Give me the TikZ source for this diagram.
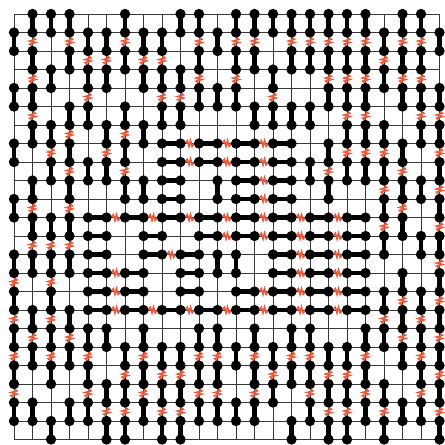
\documentclass[tikz,border=0pt]{standalone}
\definecolor{zred}{HTML}{EA5A3C}
\definecolor{gridc}{HTML}{383838}
\tikzset{
  gridline/.style={draw=gridc, line width=0.7pt},
  dimer/.style={line width=3.6pt, draw=black},
  zz/.style={draw=zred, line width=1.3pt, line join=miter},
}
\newcommand\VList{%
0/1,0/4,0/7,0/10,0/13,0/15,0/17,0/19,0/21,%
1/0,1/2,1/4,1/6,1/9,1/11,1/13,1/16,1/18,1/21,%
2/0,2/3,2/6,2/8,2/11,2/13,2/15,2/17,2/19,2/22,%
3/0,3/2,3/5,3/7,3/9,3/11,3/13,3/16,3/18,3/21,%
4/1,4/3,4/5,4/8,4/17,4/19,4/21,%
5/1,5/3,5/6,5/8,5/17,5/20,5/22,%
6/0,6/2,6/5,6/7,6/9,6/18,6/20,6/22,%
7/1,7/3,7/6,7/9,7/17,7/19,7/21,%
8/1,8/3,8/5,8/18,8/20,8/22,%
9/0,9/3,9/5,9/18,9/20,9/22,%
10/0,10/2,10/4,10/17,10/19,10/21,%
11/1,11/4,11/9,11/13,11/17,11/19,11/21,%
12/0,12/2,12/4,12/13,12/18,12/21,%
13/0,13/2,13/5,13/17,13/19,13/21,%
14/0,14/3,14/5,14/18,14/20,%
15/0,15/2,15/5,15/17,15/19,15/22,%
16/0,16/2,16/5,16/8,16/17,16/19,16/21,%
17/0,17/2,17/4,17/7,17/9,17/18,17/20,17/22,%
18/0,18/2,18/4,18/6,18/8,18/18,18/20,18/22,%
19/0,19/2,19/4,19/6,19/8,19/17,19/19,19/21,%
20/1,20/3,20/6,20/8,20/10,20/12,20/15,20/17,20/20,20/22,%
21/0,21/2,21/4,21/7,21/9,21/11,21/14,21/16,21/18,21/21,%
22/0,22/2,22/4,22/6,22/9,22/12,22/15,22/17,22/19,22/21,%
23/1,23/4,23/6,23/8,23/10,23/12,23/14,23/16,23/18,23/20,23/22}
\newcommand\HList{%
8/7,10/7,12/7,14/7,%
8/8,10/8,12/8,14/8,%
8/9,12/9,14/9,%
8/10,12/10,14/10,%
4/11,6/11,8/11,10/11,12/11,14/11,16/11,18/11,%
4/12,7/12,10/12,12/12,14/12,16/12,18/12,%
4/13,7/13,9/13,14/13,16/13,18/13,%
4/14,6/14,9/14,14/14,16/14,18/14,%
4/15,6/15,9/15,12/15,14/15,16/15,18/15,%
4/16,6/16,8/16,10/16,12/16,14/16,16/16,18/16}
\begin{document}
\begin{tikzpicture}[x=0.5cm,y=0.5cm]
\useasboundingbox[fill=white] (-0.757,0.757) rectangle (23.297,-23.243);
\draw[gridline, step=0.5cm] (0,0) grid (23,-23);
\foreach \c/\r in \VList {\expandafter\gdef\csname dV\c:\r\endcsname{}}
\foreach \c/\r in \HList {\expandafter\gdef\csname dH\c:\r\endcsname{}}
% red zigzags between collinear dimers
\foreach \c/\r in \VList {
  \pgfmathtruncatemacro\rr{\r+2}
  \ifcsname dV\c:\rr\endcsname
    \draw[zz, shift={({\c},{-\r-1.5})}] (0,0.26) -- (0.15,0.13) -- (-0.15,0.04) -- (0.15,-0.04) -- (-0.15,-0.13) -- (0,-0.26);
  \fi
}
\foreach \c/\r in \HList {
  \pgfmathtruncatemacro\cc{\c+2}
  \ifcsname dH\cc:\r\endcsname
    \draw[zz, shift={({\c+1.5},{-\r})}] (-0.26,0) -- (-0.13,0.15) -- (-0.04,-0.15) -- (0.04,0.15) -- (0.13,-0.15) -- (0.26,0);
  \fi
}
% dimers
\foreach \c/\r in \VList {
  \draw[dimer] ({\c},{-\r}) -- ({\c},{-\r-1});
  \fill ({\c},{-\r}) circle (0.28);
  \fill ({\c},{-\r-1}) circle (0.28);
}
\foreach \c/\r in \HList {
  \draw[dimer] ({\c},{-\r}) -- ({\c+1},{-\r});
  \fill ({\c},{-\r}) circle (0.28);
  \fill ({\c+1},{-\r}) circle (0.28);
}
\end{tikzpicture}
\end{document}
